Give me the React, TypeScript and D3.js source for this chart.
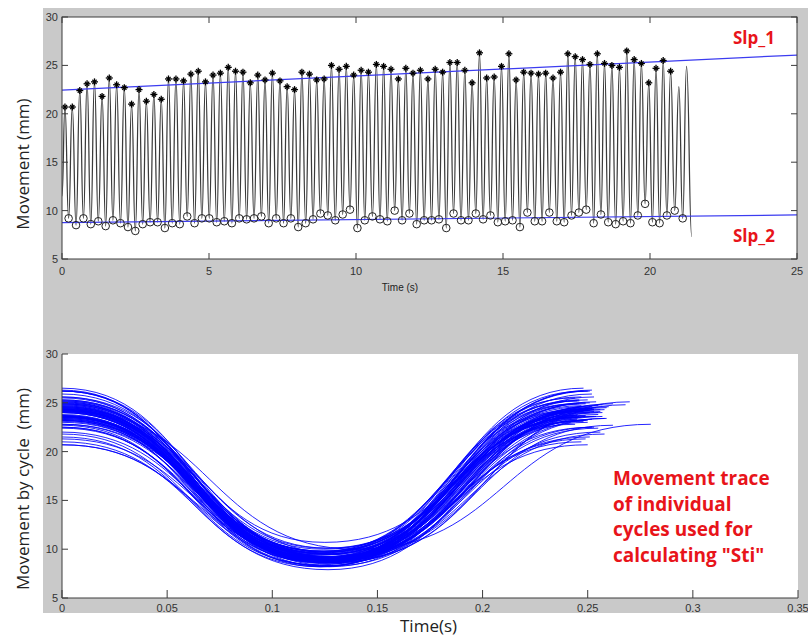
import React from 'react';
import * as d3 from 'd3';

// Peak amplitudes (mm) of each movement cycle, read left to right (last two are unmarked)
const peakValues = [
  20.7, 20.7, 22.4, 23.1, 23.3, 21.8, 23.7, 23.0, 22.7, 21.0,
  22.5, 21.3, 22.0, 21.5, 23.6, 23.6, 23.4, 24.1, 24.4, 23.3,
  24.0, 24.2, 24.8, 24.4, 24.3, 23.2, 24.0, 23.5, 24.2, 23.4,
  22.8, 22.5, 24.3, 24.1, 23.5, 23.6, 25.0, 24.6, 24.9, 24.0,
  24.5, 24.3, 25.1, 24.9, 24.6, 23.6, 24.7, 24.2, 24.5, 23.6,
  24.6, 24.3, 25.3, 25.3, 24.5, 23.2, 26.3, 23.7, 23.8, 24.9,
  26.2, 23.5, 24.3, 24.2, 24.1, 24.2, 23.7, 24.3, 26.2, 25.9,
  25.6, 25.1, 26.2, 25.2, 25.0, 24.8, 26.5, 25.6, 25.2, 23.2,
  24.7, 25.5, 24.4, 22.8, 24.9,
];
const markedPeaks = 83;

// Trough amplitudes (mm), one after each peak
const troughValues = [
  9.2, 8.5, 9.2, 8.6, 8.9, 8.4, 9.0, 8.7, 8.3, 7.9, 8.6, 8.8, 8.8, 8.2, 8.7, 8.6,
  9.4, 8.7, 9.2, 9.2, 8.8, 8.9, 8.7, 9.2, 9.1, 9.2, 9.4, 8.7, 9.2, 8.7, 9.2, 8.3,
  8.7, 9.1, 9.7, 9.5, 9.0, 9.6, 10.1, 8.2, 9.0, 9.4, 9.1, 8.9, 10.0, 9.0, 9.7, 8.6,
  9.0, 9.0, 9.1, 8.2, 9.7, 9.0, 9.0, 9.7, 9.1, 9.5,
  8.8, 8.9, 9.0, 8.3, 9.8, 8.9, 8.9, 9.8, 8.9, 8.8, 9.5, 9.8, 10.1, 8.7, 9.6, 8.8,
  8.6, 8.9, 8.7, 9.5, 10.7, 8.8, 8.7, 9.5, 10.0, 9.2,
];

// Duration of each cycle, peak to next peak (s)
const cycleDurations = [
  0.250, 0.255, 0.248, 0.252, 0.258, 0.245, 0.250, 0.262, 0.247, 0.253, 0.249, 0.256,
  0.251, 0.246, 0.254, 0.259, 0.248, 0.252, 0.245, 0.257, 0.250, 0.268, 0.247, 0.253,
  0.249, 0.255, 0.246, 0.251, 0.258, 0.244, 0.252, 0.250, 0.256, 0.247, 0.253, 0.249,
  0.260, 0.245, 0.251, 0.254, 0.248, 0.270, 0.246, 0.252, 0.249, 0.255, 0.243, 0.251,
  0.257, 0.248, 0.253, 0.246, 0.250, 0.259, 0.247, 0.252, 0.244, 0.255, 0.249, 0.251,
  0.246, 0.258, 0.250, 0.253, 0.245, 0.249, 0.256, 0.248, 0.252, 0.247, 0.254, 0.250,
  0.245, 0.251, 0.257, 0.248, 0.253, 0.246, 0.250, 0.247, 0.244, 0.252, 0.280, 0.262,
];
const firstPeakTime = 0.1;
const signalStart = { t: 0, v: 11.5 };
const signalEnd = { t: 21.42, v: 7.3 };

// Regression lines
const slope1 = [{ t: 0, v: 22.45 }, { t: 25, v: 26.07 }];
const slope2 = [{ t: 0, v: 8.75 }, { t: 25, v: 9.55 }];

const yTicks = [5, 10, 15, 20, 25, 30];
const topXTicks = [0, 5, 10, 15, 20, 25];
const botXTicks = [0, 0.05, 0.1, 0.15, 0.2, 0.25, 0.3, 0.35];
const annotationLines = ['Movement trace', 'of individual', 'cycles used for', 'calculating "Sti"'];

const GRAY = '#c9c9c9';
const AXIS = '#3c3c3c';
const TICKFONT = '"Liberation Sans", Arial, sans-serif';
const LABELFONT = '"Open Sans", sans-serif';

export default function App() {
  const xTop = d3.scaleLinear().domain([0, 25]).range([62, 797]);
  const yTop = d3.scaleLinear().domain([5, 30]).range([259, 17]);
  const xBot = d3.scaleLinear().domain([0, 0.35]).range([62, 798]);
  const yBot = d3.scaleLinear().domain([5, 30]).range([598, 354]);

  const peakTimes: number[] = [firstPeakTime];
  cycleDurations.forEach((d, i) => peakTimes.push(peakTimes[i] + d));
  const troughTimes = troughValues.map((_, i) => peakTimes[i] + cycleDurations[i] / 2);

  const signal: { t: number; v: number }[] = [signalStart];
  peakValues.forEach((p, i) => {
    signal.push({ t: peakTimes[i], v: p });
    if (i < troughValues.length) signal.push({ t: troughTimes[i], v: troughValues[i] });
  });
  signal.push(signalEnd);

  const topLine = d3.line<{ t: number; v: number }>()
    .x((d) => xTop(d.t)).y((d) => yTop(d.v)).curve(d3.curveBumpX);
  const straight = d3.line<{ t: number; v: number }>()
    .x((d) => xTop(d.t)).y((d) => yTop(d.v));
  const cycLine = d3.line<{ t: number; v: number }>()
    .x((d) => xBot(d.t)).y((d) => yBot(d.v)).curve(d3.curveBumpX);

  const cycles = cycleDurations.map((dur, i) => [
    { t: 0, v: peakValues[i] },
    { t: dur / 2, v: troughValues[i] },
    { t: dur, v: peakValues[i + 1] },
  ]);

  const tickLen = 6;
  const fmt = (v: number) => String(v);

  return (
    <svg width={808} height={637} style={{ position: 'absolute', left: 0, top: 0 }}>
      <rect x={0} y={0} width={808} height={637} fill="#ffffff" />
      <rect x={43} y={8} width={765} height={605} fill={GRAY} />

      {/* ===== TOP PANEL ===== */}
      <rect x={62} y={17} width={735} height={242} fill="#ffffff" />
      <path d={topLine(signal) || ''} fill="none" stroke="#3a3a3a" strokeWidth={1.25} />
      <path d={straight(slope1) || ''} fill="none" stroke="#3c3cf0" strokeWidth={1.2} />
      <path d={straight(slope2) || ''} fill="none" stroke="#3c3cf0" strokeWidth={1.2} />
      {peakValues.slice(0, markedPeaks).map((p, i) => {
        const cx = xTop(peakTimes[i]);
        const cy = yTop(p);
        const r = 3.5;
        return (
          <g key={'pk' + i} stroke="#000" strokeWidth={1.3}>
            <line x1={cx - r} x2={cx + r} y1={cy} y2={cy} />
            <line x1={cx} x2={cx} y1={cy - r} y2={cy + r} />
            <line x1={cx - r * 0.6} x2={cx + r * 0.6} y1={cy - r * 0.6} y2={cy + r * 0.6} />
            <line x1={cx - r * 0.6} x2={cx + r * 0.6} y1={cy + r * 0.6} y2={cy - r * 0.6} />
          </g>
        );
      })}
      {troughValues.map((v, i) => (
        <circle key={'tr' + i} cx={xTop(troughTimes[i])} cy={yTop(v)} r={3.8}
          fill="none" stroke="#222" strokeWidth={1} />
      ))}
      <rect x={62} y={17} width={735} height={242} fill="none" stroke={AXIS} strokeWidth={1} />
      {yTicks.map((t) => (
        <g key={'ty' + t}>
          <line x1={62} x2={62 + tickLen} y1={yTop(t)} y2={yTop(t)} stroke={AXIS} />
          <line x1={797} x2={797 - tickLen} y1={yTop(t)} y2={yTop(t)} stroke={AXIS} />
          <text x={58} y={yTop(t) + 4} textAnchor="end" fontSize={11} fontFamily={TICKFONT} fill="#333">{fmt(t)}</text>
        </g>
      ))}
      {topXTicks.map((t) => (
        <g key={'tx' + t}>
          <line x1={xTop(t)} x2={xTop(t)} y1={259} y2={259 - tickLen} stroke={AXIS} />
          <line x1={xTop(t)} x2={xTop(t)} y1={17} y2={17 + tickLen} stroke={AXIS} />
          <text x={xTop(t)} y={275} textAnchor="middle" fontSize={11} fontFamily={TICKFONT} fill="#333">{fmt(t)}</text>
        </g>
      ))}
      <text x={400} y={291} textAnchor="middle" fontSize={10} fontFamily={TICKFONT} fill="#222">Time (s)</text>
      <text transform="translate(29,164) rotate(-90)" textAnchor="middle" fontSize={17} fontFamily={LABELFONT} fill="#222">Movement (mm)</text>
      <text x={754} y={44} textAnchor="middle" fontSize={17} fontWeight="bold" fontFamily={LABELFONT} fill="#e8141a">Slp_1</text>
      <text x={754} y={242} textAnchor="middle" fontSize={17} fontWeight="bold" fontFamily={LABELFONT} fill="#e8141a">Slp_2</text>

      {/* ===== BOTTOM PANEL ===== */}
      <rect x={62} y={354} width={736} height={244} fill="#ffffff" />
      {cycles.map((c, i) => (
        <path key={'cy' + i} d={cycLine(c) || ''} fill="none" stroke="#0000ff" strokeWidth={1} strokeOpacity={0.85} />
      ))}
      <line x1={62} x2={62} y1={354} y2={598} stroke={AXIS} />
      <line x1={62} x2={798} y1={598} y2={598} stroke={AXIS} />
      {yTicks.map((t) => (
        <g key={'by' + t}>
          <line x1={62} x2={62 + tickLen} y1={yBot(t)} y2={yBot(t)} stroke={AXIS} />
          <text x={58} y={yBot(t) + 4} textAnchor="end" fontSize={11} fontFamily={TICKFONT} fill="#333">{fmt(t)}</text>
        </g>
      ))}
      {botXTicks.map((t) => (
        <g key={'bx' + t}>
          <line x1={xBot(t)} x2={xBot(t)} y1={598} y2={598 - 8} stroke={AXIS} />
          <text x={xBot(t)} y={612} textAnchor="middle" fontSize={11} fontFamily={TICKFONT} fill="#333">{fmt(t)}</text>
        </g>
      ))}
      <text x={400} y={632} fontSize={17} fontFamily={LABELFONT} fill="#222">Time(s)</text>
      <text transform="translate(29,489) rotate(-90)" textAnchor="middle" fontSize={17} fontFamily={LABELFONT} fill="#222" style={{ whiteSpace: 'pre' }}>Movement by cycle  (mm)</text>
      {annotationLines.map((s, i) => (
        <text key={'an' + i} x={613} y={485 + i * 25.5} fontSize={19} fontWeight="bold" fontFamily={LABELFONT} fill="#e8141a">{s}</text>
      ))}
    </svg>
  );
}
